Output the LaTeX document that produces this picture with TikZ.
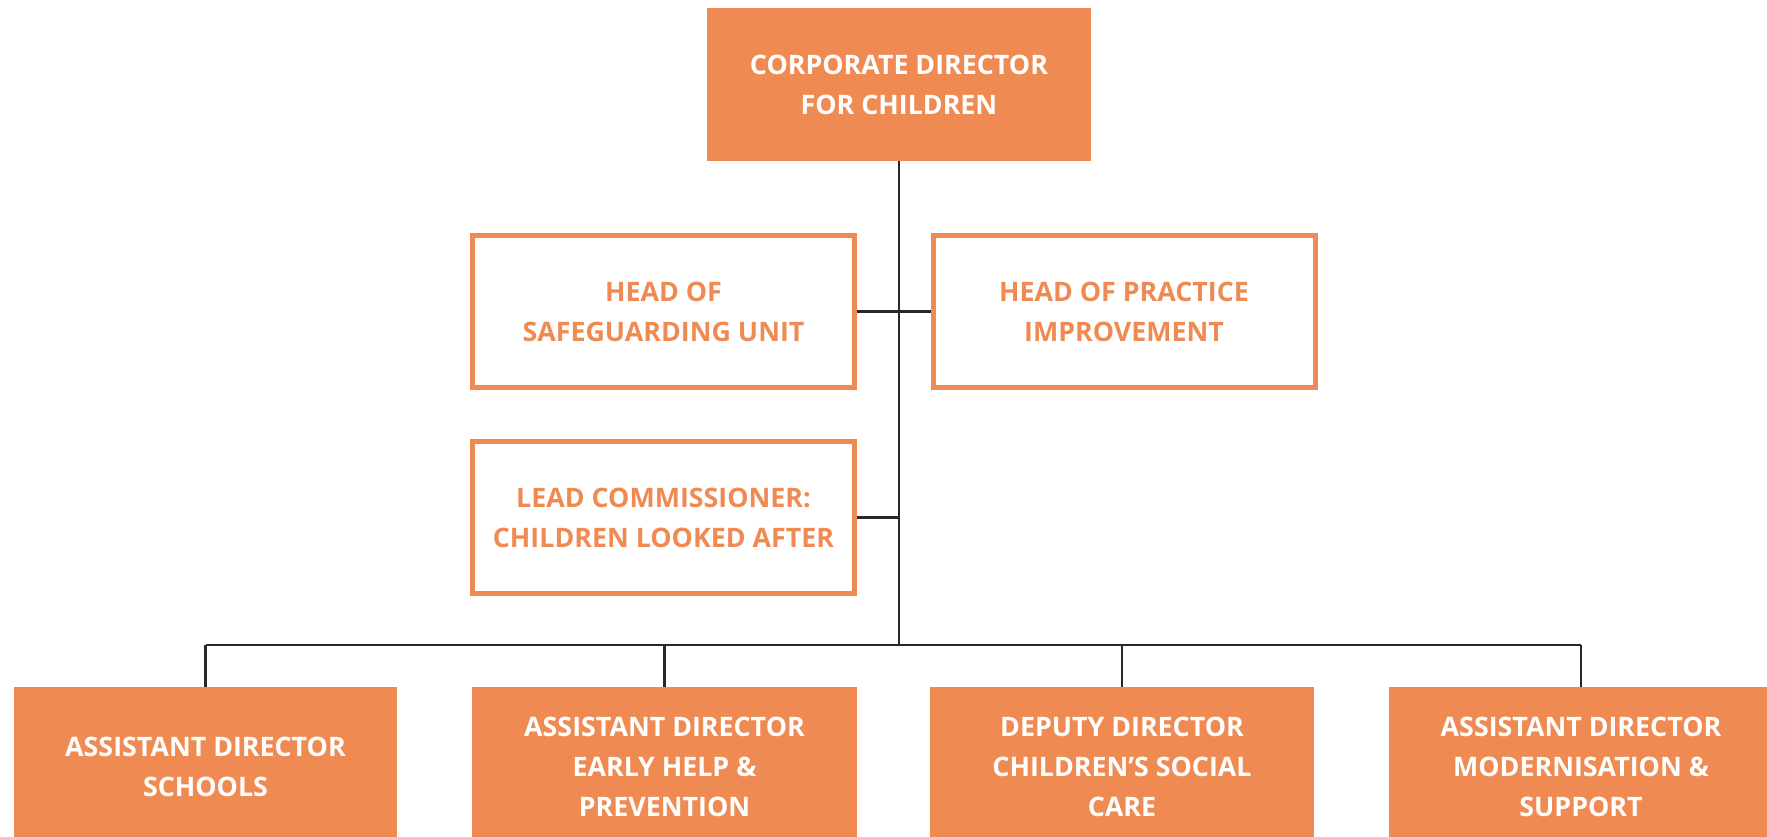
\documentclass[tikz,border=0pt]{standalone}
\usepackage{fontspec}
\setmainfont{Open Sans}
\definecolor{orgorange}{RGB}{239,139,82}
\definecolor{orgline}{RGB}{40,40,40}

\begin{document}
\begin{tikzpicture}[x=1pt,y=-1pt,
    boxfont/.style={font=\fontsize{26.8}{40}\selectfont\bfseries},
    solid box/.style={boxfont,fill=orgorange,text=white,align=center,inner sep=0pt},
    open box/.style={boxfont,draw=orgorange,line width=5pt,fill=white,text=orgorange,
      align=center,inner sep=0pt,minimum width=382pt,minimum height=152pt},
    link/.style={draw=orgline,line width=2.5pt}]
  \useasboundingbox (0,0) rectangle (1767,837);
  \clip (0,0) rectangle (1767,837);

  % top of the chart
  \node[solid box,minimum width=384pt,minimum height=153pt] (cdc) at (899,84.5)
    {CORPORATE DIRECTOR\\FOR CHILDREN};

  % heads reporting to the director
  \node[open box] (hsu) at (663.5,311.5) {HEAD OF\\SAFEGUARDING UNIT};
  \node[open box] (hpi) at (1124,311.5) {HEAD OF PRACTICE\\IMPROVEMENT};
  \node[open box] (lcla) at (663.5,517.5) {LEAD COMMISSIONER:\\CHILDREN LOOKED AFTER};

  % directors below
  \node[solid box,minimum width=383pt,minimum height=160pt] (ads) at (205.5,767)
    {ASSISTANT DIRECTOR\\SCHOOLS};
  \node[solid box,minimum width=385pt,minimum height=160pt] (adeh) at (664.5,767)
    {ASSISTANT DIRECTOR\\EARLY HELP \&\\PREVENTION};
  \node[solid box,minimum width=384pt,minimum height=160pt] (ddcsc) at (1122,767)
    {DEPUTY DIRECTOR\\CHILDREN’S SOCIAL\\CARE};
  \node[solid box,minimum width=384pt,minimum height=160pt] (adms) at (1581,767)
    {ASSISTANT DIRECTOR\\MODERNISATION \&\\SUPPORT};

  \coordinate (bus) at (899,645);

  \draw[link] (cdc.south) -- (bus);
  \draw[link] (hsu.east) -- (hpi.west);
  \draw[link] (lcla.east) -- (lcla.east -| cdc.south);
  \draw[link] (bus -| ads.north) -- (bus -| adms.north);
  \foreach \n in {ads,adeh,ddcsc,adms}
    \draw[link] (bus -| \n.north) -- (\n.north);
\end{tikzpicture}
\end{document}
